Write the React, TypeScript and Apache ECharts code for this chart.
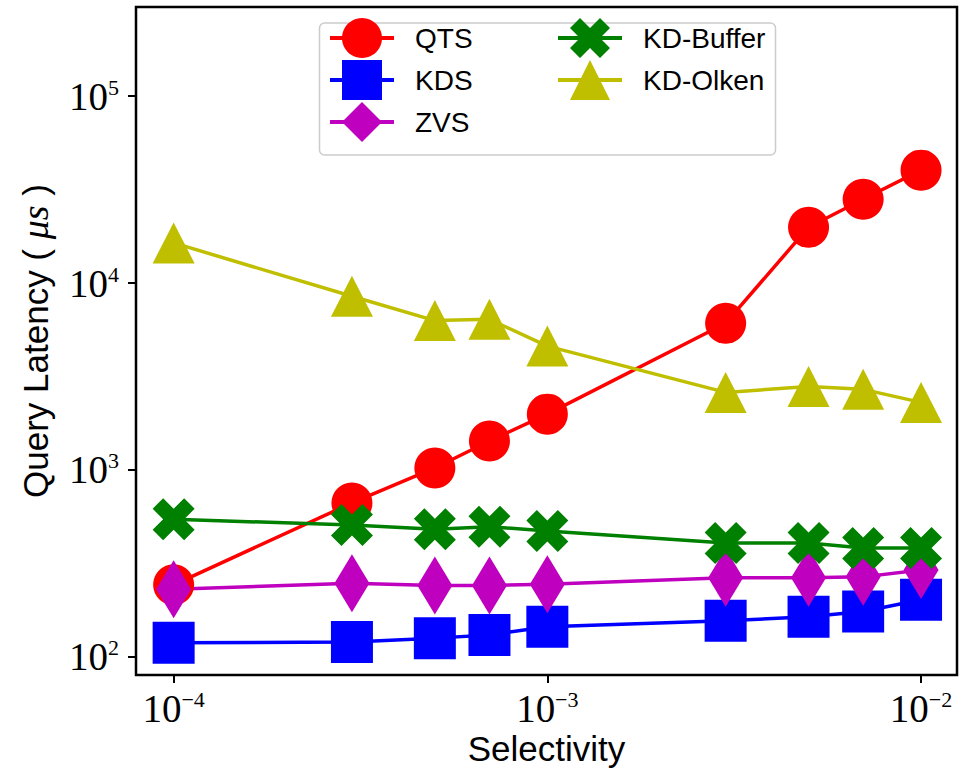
import React, { useEffect, useRef } from 'react';
import * as echarts from 'echarts';

// Selectivity values shared by every series
const selectivity = [1e-4, 3e-4, 5e-4, 7e-4, 1e-3, 3e-3, 5e-3, 7e-3, 1e-2];

// Query latency per method (microseconds)
const qts = [243, 666, 1025, 1430, 1990, 6100, 19900, 28100, 40200];
const kds = [119, 120, 126, 131, 145, 156, 164, 175, 202];
const zvs = [230, 248, 241, 241, 245, 265, 265, 268, 292];
const kdBuffer = [545, 508, 482, 497, 472, 407, 407, 383, 383];
const kdOlken = [16400, 8500, 6300, 6400, 4600, 2600, 2800, 2700, 2300];

// Decade ticks
const xTicks = [1e-4, 1e-3, 1e-2];
const yTicks = [1e2, 1e3, 1e4, 1e5];

// Legend entries: [name, column, row]
const legendEntries: [string, number, number][] = [
  ['QTS', 0, 0],
  ['KDS', 0, 1],
  ['ZVS', 0, 2],
  ['KD-Buffer', 1, 0],
  ['KD-Olken', 1, 1],
];

const X_MARK = 'path://M50,25L75,0L100,25L75,50L100,75L75,100L50,75L25,100L0,75L25,50L0,25L25,0Z';

const SERIF = "'Liberation Serif', 'DejaVu Serif', serif";
const SANS = "'Liberation Sans', Arial, sans-serif";

const pow10Label = (v: number) => {
  const e = Math.round(Math.log10(v));
  return `{b|10}{s|${e < 0 ? '\u2212' : ''}${Math.abs(e)}}`;
};

const labelRich = {
  b: { fontFamily: SERIF, fontSize: 39, lineHeight: 40, color: '#000' },
  s: { fontFamily: SERIF, fontSize: 22, lineHeight: 22, color: '#000', verticalAlign: 'top' },
};

function makeSeries(name: string, values: number[], color: string, symbol: string, symbolSize: any) {
  return {
    name,
    type: 'line',
    data: selectivity.map((x, i) => [x, values[i]]),
    symbol,
    symbolSize,
    showSymbol: true,
    lineStyle: { color, width: 3.5 },
    itemStyle: { color },
    emphasis: { disabled: true },
  };
}

export default function App() {
  const ref = useRef<HTMLDivElement>(null);

  useEffect(() => {
    if (!ref.current) return;
    const chart = echarts.init(ref.current, null, { renderer: 'svg' });
    const colLeft = [328, 556];
    const rowCenter = [43, 85, 127];
    const itemH = 50;
    const legends = legendEntries.map(([name, col, row]) => ({
      orient: 'vertical',
      left: colLeft[col],
      top: rowCenter[row] - itemH / 2,
      itemWidth: 64,
      itemHeight: itemH,
      padding: 0,
      selectedMode: false,
      data: [name],
      lineStyle: { width: 4 },
      textStyle: { fontFamily: SANS, fontSize: 28, color: '#000', padding: [4, 0, 0, 16] },
    }));
    chart.setOption({
      animation: false,
      backgroundColor: '#fff',
      grid: {
        left: 136,
        right: 4,
        top: 7,
        bottom: 98,
        show: true,
        borderColor: '#000',
        borderWidth: 2.5,
        containLabel: false,
        outerBoundsMode: 'none',
      },
      xAxis: {
        type: 'log',
        logBase: 10,
        min: 7.93e-5,
        max: 0.01248,
        name: 'Selectivity',
        nameLocation: 'middle',
        nameGap: 56,
        nameMoveOverlap: false,
        nameTextStyle: { fontFamily: SANS, fontSize: 35, color: '#000' },
        axisLine: { show: false },
        axisTick: { show: true, length: 8, inside: false, customValues: xTicks, lineStyle: { color: '#000', width: 2 } },
        minorTick: { show: false },
        splitLine: { show: false },
        axisLabel: {
          customValues: xTicks,
          margin: 13,
          formatter: pow10Label,
          rich: labelRich,
        },
      },
      yAxis: {
        type: 'log',
        logBase: 10,
        min: 80,
        max: 300000,
        name: 'Query Latency ( {m|\u03bcs} )',
        nameLocation: 'middle',
        nameGap: 82,
        nameRotate: 90,
        nameMoveOverlap: false,
        nameTextStyle: {
          fontFamily: SANS,
          fontSize: 35,
          color: '#000',
          rich: { m: { fontFamily: SERIF, fontStyle: 'italic', fontSize: 38, color: '#000' } },
        },
        axisLine: { show: false },
        axisTick: { show: true, length: 8, inside: false, customValues: yTicks, lineStyle: { color: '#000', width: 2 } },
        minorTick: { show: false },
        splitLine: { show: false },
        axisLabel: {
          customValues: yTicks,
          margin: 17,
          formatter: pow10Label,
          rich: labelRich,
        },
      },
      legend: legends,
      graphic: [
        {
          type: 'rect',
          z: 3,
          shape: { x: 319.5, y: 23, width: 456, height: 132, r: 5 },
          style: { fill: 'rgba(255,255,255,0.8)', stroke: '#cccccc', lineWidth: 1.5 },
        },
      ],
      series: [
        makeSeries('QTS', qts, '#ff0000', 'circle', 41),
        makeSeries('KDS', kds, '#0000ff', 'rect', 42),
        makeSeries('ZVS', zvs, '#bf00bf', 'diamond', [35, 58]),
        makeSeries('KD-Buffer', kdBuffer, '#008000', X_MARK, 42),
        makeSeries('KD-Olken', kdOlken, '#bfbf00', 'triangle', [42, 41]),
      ],
    });
    return () => chart.dispose();
  }, []);

  return (
    <div
      ref={ref}
      style={{ position: 'absolute', left: 0, top: 0, width: 961, height: 773 }}
    />
  );
}
